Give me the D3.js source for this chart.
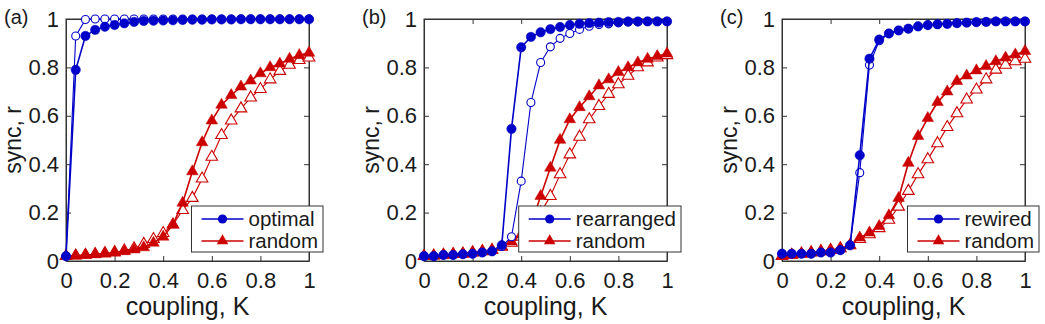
<!DOCTYPE html>
<html><head><meta charset="utf-8">
<script src="https://cdn.jsdelivr.net/npm/d3@7"></script>
<style>body{margin:0;background:#fff}svg{display:block}text{font-family:"Liberation Sans",Arial,Helvetica,sans-serif;fill:#1a1a1a}</style>
</head><body><svg id="c" width="1045" height="324"></svg>
<script>
const couplingK = [0,0.04,0.08,0.12,0.16,0.20,0.24,0.28,0.32,0.36,0.40,0.44,0.48,0.52,0.56,0.60,0.64,0.68,0.72,0.76,0.80,0.84,0.88,0.92,0.96,1.00];
const tickValues = [0,0.2,0.4,0.6,0.8,1];
const tickLabels = ["0","0.2","0.4","0.6","0.8","1"];
const panelLabels = ["(a)","(b)","(c)"];
const legendNames = [["optimal","random"],["rearranged","random"],["rewired","random"]];

// panel (a)
const aOptimalFilled = [0.02,0.79,0.93,0.955,0.968,0.975,0.982,0.988,0.992,0.993,0.994,0.995,0.996,0.997,0.997,0.998,0.998,0.998,0.999,0.999,0.999,0.999,0.999,0.999,0.999,0.999];
const aOptimalOpen   = [0.02,0.93,0.998,1,1,1,1,1,1,1,1,1,1,1,1,1,1,1,1,1,1,1,1,1,1,1];
const aRandomFilled  = [0.02,0.022,0.025,0.027,0.03,0.034,0.04,0.047,0.056,0.075,0.10,0.15,0.24,0.37,0.49,0.58,0.645,0.685,0.72,0.745,0.775,0.80,0.815,0.835,0.85,0.86];
const aRandomOpen    = [0.02,0.022,0.025,0.028,0.032,0.036,0.043,0.052,0.07,0.09,0.115,0.15,0.21,0.26,0.34,0.43,0.52,0.58,0.63,0.675,0.71,0.75,0.785,0.81,0.83,0.84];
// panel (b)
const bRearrFilled  = [0.02,0.02,0.025,0.025,0.028,0.03,0.035,0.04,0.065,0.546,0.883,0.926,0.945,0.958,0.967,0.975,0.98,0.983,0.985,0.987,0.988,0.99,0.99,0.99,0.99,0.99];
const bRearrOpen    = [0.02,0.02,0.025,0.025,0.028,0.03,0.035,0.04,0.06,0.10,0.33,0.655,0.82,0.885,0.92,0.94,0.957,0.97,0.977,0.98,0.984,0.987,0.988,0.99,0.99,0.99];
const bRandomFilled = [0.02,0.022,0.025,0.028,0.03,0.035,0.04,0.045,0.06,0.08,0.11,0.15,0.268,0.385,0.50,0.585,0.635,0.68,0.725,0.75,0.78,0.80,0.82,0.835,0.846,0.857];
const bRandomOpen   = [0.02,0.022,0.025,0.028,0.03,0.035,0.04,0.045,0.058,0.075,0.10,0.14,0.20,0.268,0.358,0.44,0.513,0.585,0.64,0.69,0.73,0.765,0.80,0.82,0.84,0.85];
// panel (c)
const cRewiredFilled = [0.03,0.03,0.03,0.03,0.035,0.035,0.045,0.065,0.437,0.836,0.915,0.94,0.953,0.96,0.97,0.975,0.978,0.98,0.983,0.985,0.987,0.988,0.99,0.99,0.99,0.99];
const cRewiredOpen   = [0.03,0.03,0.03,0.03,0.035,0.035,0.045,0.065,0.365,0.81,0.91,0.94,0.952,0.96,0.968,0.974,0.978,0.98,0.983,0.985,0.987,0.988,0.99,0.99,0.99,0.99];
const cRandomFilled  = [0.02,0.025,0.03,0.035,0.04,0.045,0.052,0.065,0.096,0.117,0.144,0.188,0.26,0.405,0.516,0.59,0.656,0.70,0.743,0.766,0.787,0.805,0.825,0.84,0.853,0.867];
const cRandomOpen    = [0.02,0.025,0.03,0.035,0.04,0.045,0.052,0.065,0.09,0.11,0.135,0.17,0.224,0.289,0.358,0.42,0.486,0.553,0.61,0.667,0.708,0.75,0.79,0.81,0.825,0.835];

const panels = [
  {blueF:aOptimalFilled, blueO:aOptimalOpen, redF:aRandomFilled, redO:aRandomOpen},
  {blueF:bRearrFilled, blueO:bRearrOpen, redF:bRandomFilled, redO:bRandomOpen},
  {blueF:cRewiredFilled, blueO:cRewiredOpen, redF:cRandomFilled, redO:cRandomOpen}
];

const BLUE = "#0000c8", RED = "#cc0000", AX = "#333";
const svg = d3.select("#c");
svg.append("rect").attr("width",1045).attr("height",324).attr("fill","#fff");

const lefts = [66, 424, 782], W = 243, TOP = 19, BOT = 261;

panels.forEach((p, i) => {
  const x0 = lefts[i];
  const x = d3.scaleLinear().domain([0,1]).range([x0, x0+W]);
  const y = d3.scaleLinear().domain([0,1]).range([BOT, TOP]);
  const g = svg.append("g");

  g.append("rect").attr("x",x0).attr("y",TOP).attr("width",W).attr("height",BOT-TOP)
    .attr("fill","none").attr("stroke",AX).attr("stroke-width",1);

  const xb = d3.axisBottom(x).tickValues(tickValues).tickFormat((d,j)=>tickLabels[j]).tickSizeInner(-5).tickSizeOuter(0).tickPadding(11);
  const yl = d3.axisLeft(y).tickValues(tickValues).tickFormat((d,j)=>tickLabels[j]).tickSizeInner(-5).tickSizeOuter(0).tickPadding(7);
  const xt = d3.axisTop(x).tickValues(tickValues).tickFormat("").tickSizeInner(-5).tickSizeOuter(0);
  const yr = d3.axisRight(y).tickValues(tickValues).tickFormat("").tickSizeInner(-5).tickSizeOuter(0);
  [[xb,`translate(0,${BOT})`],[yl,`translate(${x0},0)`],[xt,`translate(0,${TOP})`],[yr,`translate(${x0+W},0)`]].forEach(([ax,tr])=>{
    const a = g.append("g").attr("transform",tr).call(ax);
    a.select(".domain").attr("stroke",AX);
    a.selectAll(".tick line").attr("stroke",AX);
    a.selectAll("text").style("font-size","22px").attr("fill","#1a1a1a");
  });

  const line = d3.line().x((d,j)=>x(couplingK[j])).y(d=>y(d));
  const tri = d3.symbol().type(d3.symbolTriangle).size(58);

  function series(vals, color, filled, shape){
    g.append("path").datum(vals).attr("d",line).attr("fill","none")
      .attr("stroke",color).attr("stroke-width",filled?1.6:1.1);
    const s = g.append("g");
    if(shape==="circle"){
      s.selectAll("circle").data(vals).join("circle")
        .attr("cx",(d,j)=>x(couplingK[j])).attr("cy",d=>y(d))
        .attr("r",filled?4.7:4).attr("fill",filled?color:"#fff")
        .attr("stroke",color).attr("stroke-width",filled?0.5:1.1);
    } else {
      s.selectAll("path").data(vals).join("path").attr("d",tri)
        .attr("transform",(d,j)=>`translate(${x(couplingK[j])},${y(d)})`)
        .attr("fill",filled?color:"#fff").attr("stroke",color).attr("stroke-width",filled?0.5:1.1);
    }
  }
  series(p.redO, RED, false, "tri");
  series(p.redF, RED, true, "tri");
  series(p.blueO, BLUE, false, "circle");
  series(p.blueF, BLUE, true, "circle");

  svg.append("text").attr("x",x0-62).attr("y",24).style("font-size","20px").text(panelLabels[i]);

  svg.append("text").attr("x",x0+W/2).attr("y",315).attr("text-anchor","middle")
    .style("font-size","25px").text("coupling, K");
  svg.append("text").attr("transform",`translate(${x0-45},${(TOP+BOT)/2}) rotate(-90)`)
    .attr("text-anchor","middle").style("font-size","23px").text("sync, r");

  const lg = svg.append("g");
  const box = lg.append("rect").attr("fill","#fff").attr("stroke",AX).attr("stroke-width",1);
  const t1 = lg.append("text").attr("y",226).style("font-size","20.5px").text(legendNames[i][0]);
  const t2 = lg.append("text").attr("y",248).style("font-size","20.5px").text(legendNames[i][1]);
  const tw = Math.max(t1.node().getComputedTextLength(), t2.node().getComputedTextLength());
  const right = x0 + 257;
  const left = right - (tw + 62);
  box.attr("x",left).attr("y",206).attr("width",right-left).attr("height",46);
  t1.attr("x",left+57); t2.attr("x",left+57);
  lg.append("line").attr("x1",left+10).attr("x2",left+52).attr("y1",219).attr("y2",219).attr("stroke",BLUE).attr("stroke-width",1.4);
  lg.append("circle").attr("cx",left+31).attr("cy",219).attr("r",4.6).attr("fill",BLUE);
  lg.append("line").attr("x1",left+10).attr("x2",left+52).attr("y1",241).attr("y2",241).attr("stroke",RED).attr("stroke-width",1.4);
  lg.append("path").attr("d",d3.symbol().type(d3.symbolTriangle).size(58)).attr("transform",`translate(${left+31},241)`).attr("fill",RED);
});
</script></body></html>
